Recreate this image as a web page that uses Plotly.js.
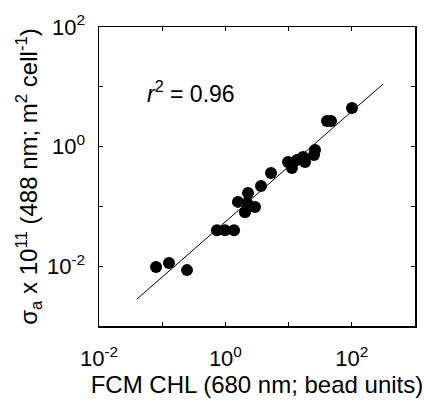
<!DOCTYPE html>
<html>
<head>
<meta charset="utf-8">
<script src="https://cdn.plot.ly/plotly-3.0.1.min.js"></script>
<style>html,body{margin:0;padding:0;background:#fff;}#chart{width:424px;height:403px;}</style>
</head>
<body>
<div id="chart"></div>
<script>
// FCM chlorophyll (bead units)
const fcmChl = [0.080, 0.128, 0.247, 0.736, 0.986, 1.37, 1.58, 2.04, 2.20, 2.28, 2.94, 3.66, 5.27, 9.79, 11.3, 13.6, 16.9, 18.2, 26.2, 25.2, 40.5, 46.9, 100.7];
// sigma_a x 10^11 (488 nm; m^2 cell^-1)
const sigmaA = [0.0097, 0.0113, 0.0086, 0.040, 0.040, 0.040, 0.119, 0.080, 0.114, 0.168, 0.098, 0.219, 0.362, 0.553, 0.439, 0.597, 0.670, 0.552, 0.877, 0.724, 2.68, 2.68, 4.42];
// regression line end points
const fitX = [0.040, 312];
const fitY = [0.00283, 11.1];
const rSquared = "0.96";

const xTickVals = [0.01, 0.1, 1, 10, 100, 1000];
const xTickText = ["10<sup>-2</sup>", "", "10<sup>0</sup>", "", "10<sup>2</sup>", ""];
const yTickVals = [0.001, 0.01, 0.1, 1, 10, 100];
const yTickText = ["", "10<sup>-2</sup>", "", "10<sup>0</sup>", "", "10<sup>2</sup>"];

const font = "Liberation Sans, Arial, sans-serif";

const traces = [
  {x: fitX, y: fitY, mode: "lines", line: {color: "#000", width: 1}, hoverinfo: "skip"},
  {x: fcmChl, y: sigmaA, mode: "markers", marker: {color: "#000", size: 12}}
];

const axisCommon = {
  type: "log", showgrid: false, zeroline: false, showline: true, linecolor: "#000", linewidth: 1.5,
  mirror: "ticks", ticks: "inside", ticklen: 4, tickcolor: "#000", tickwidth: 1,
  tickfont: {family: font, size: 22, color: "#000"}
};

const layout = {
  width: 424, height: 403,
  margin: {l: 99, r: 9, t: 27, b: 77},
  paper_bgcolor: "#fff", plot_bgcolor: "#fff",
  showlegend: false,
  xaxis: Object.assign({}, axisCommon, {
    range: [-2, 3], tickmode: "array", tickvals: xTickVals, ticktext: xTickText,
    ticklabelstandoff: 12,
    title: {text: "FCM CHL (680 nm; bead units)", font: {family: font, size: 24, color: "#000"}, standoff: 4}
  }),
  yaxis: Object.assign({}, axisCommon, {
    range: [-3, 2], tickmode: "array", tickvals: yTickVals, ticktext: yTickText,
    ticklabelstandoff: 8,
    title: {text: "σ<sub>a</sub> x 10<sup>11</sup> (488 nm; m<sup>2</sup> cell<sup>-1</sup>)", font: {family: font, size: 24, color: "#000"}, standoff: 2}
  }),
  annotations: [{
    xref: "paper", yref: "paper", x: 0.146, y: 0.783, xanchor: "left", yanchor: "middle",
    text: "<i>r</i><sup>2</sup> = " + rSquared, showarrow: false,
    font: {family: font, size: 23, color: "#000"}
  }]
};

Plotly.newPlot("chart", traces, layout, {displayModeBar: false, staticPlot: true});
</script>
</body>
</html>
